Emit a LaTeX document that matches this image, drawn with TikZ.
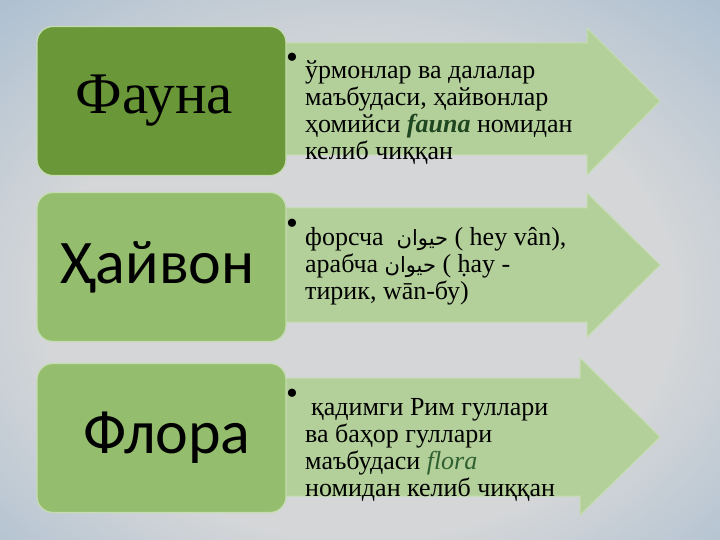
\documentclass[tikz,border=0pt]{standalone}
\usepackage{fontspec}
\setmainfont{Liberation Serif}
\newfontfamily\carlito{Carlito}
\newfontfamily\arabicfont[Script=Arabic]{DejaVu Sans}
\TeXXeTstate=1

\definecolor{fonmarkaz}{HTML}{D4D6D8}
\definecolor{fonchet}{HTML}{7FA5C8}
\definecolor{toqyashil}{HTML}{6A9737}
\definecolor{ochyashil}{HTML}{95BD6E}
\definecolor{blokchegara}{HTML}{C5DDB0}
\definecolor{strelkarang}{HTML}{B3CF9A}
\definecolor{strelkachegara}{HTML}{C4DDAE}
\definecolor{lotin}{HTML}{1E4620}
\definecolor{lotinoch}{HTML}{2F6030}

\pgfdeclareradialshading{fon}{\pgfpoint{0bp}{-4bp}}{%
  color(0bp)=(fonmarkaz); color(22bp)=(fonmarkaz);
  color(55bp)=(fonchet); color(80bp)=(fonchet)}

\tikzset{
  blok/.style={rounded corners=16pt, draw=blokchegara, line width=1.2pt,
    minimum width=249pt, minimum height=149pt, inner sep=0pt},
  strelka/.style={fill=strelkarang, draw=strelkachegara, line width=1pt},
  matn/.style={anchor=north west, align=left, inner sep=0pt,
    font=\fontsize{26}{27}\selectfont},
  nuqta/.style={inner sep=0pt, font=\fontsize{34}{34}\selectfont}
}

\newcommand\arab[1]{{\arabicfont\fontsize{21}{27}\selectfont\beginR #1\endR}}

\begin{document}
\begin{tikzpicture}[x=1pt, y=-1pt]

% Fon
\shade[shading=fon] (0,0) rectangle (720,540);
\useasboundingbox (0,0) rectangle (720,540);

% Strelkalar
\filldraw[strelka] (283,43) -- (587,43) -- (587,28) -- (660,101)
  -- (587,175) -- (587,155) -- (283,155) -- cycle;
\filldraw[strelka] (283,208) -- (587,208) -- (587,193) -- (660,265)
  -- (587,337) -- (587,322) -- (283,322) -- cycle;
\filldraw[strelka] (283,378) -- (580,378) -- (580,358) -- (660,437)
  -- (580,515) -- (580,496) -- (283,496) -- cycle;

% Bloklar
\node[blok, fill=toqyashil, font=\fontsize{59}{64}\selectfont]
  (fauna) at (161.5,101) {\hspace{-14pt}\raisebox{-6pt}{Фауна}};
\node[blok, fill=ochyashil, font=\carlito\fontsize{62}{66}\selectfont]
  (hayvon) at (161.5,267) {\hspace{-7pt}\raisebox{-3pt}{Ҳайвон}};
\node[blok, fill=ochyashil, font=\carlito\fontsize{62}{66}\selectfont]
  (flora) at (161.5,438) {\hspace{11pt}\raisebox{-3pt}{Флора}};

% Matnlar
\node[nuqta] (nuqta1) at (292,61) {\textbullet};
\node[matn] (matn1) at (305,59) {\strut ўрмонлар ва далалар\\
  маъбудаси, ҳайвонлар\\
  ҳомийси \textcolor{lotin}{\textbf{\textit{fauna}}} номидан\\
  келиб чиққан};

\node[nuqta] (nuqta2) at (292,227) {\textbullet};
\node[matn] (matn2) at (305,226) {\strut форсча\ \ \arab{حيوان} ( hey vân),\\
  арабча \arab{حيوان} ( ḥay -\\
  тирик, wān-бу)};

\node[nuqta] (nuqta3) at (292,397) {\textbullet};
\node[matn] (matn3) at (305,396) {\strut\hspace{6pt}қадимги Рим гуллари\\
  ва баҳор гуллари\\
  маъбудаси \textcolor{lotinoch}{\textit{flora}}\\
  номидан келиб чиққан};

\end{tikzpicture}
\end{document}
